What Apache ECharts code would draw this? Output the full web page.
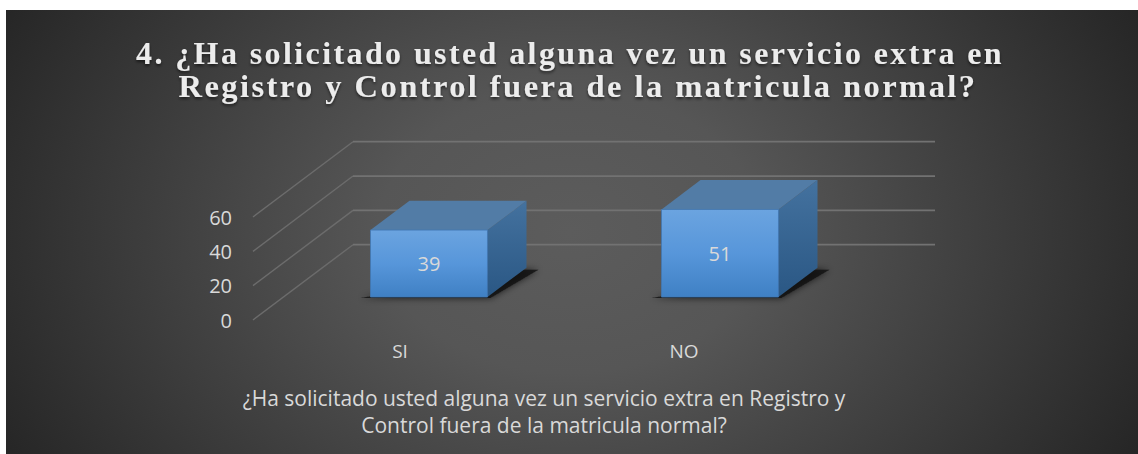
<!DOCTYPE html>
<html>
<head>
<meta charset="utf-8">
<script src="https://cdn.jsdelivr.net/npm/echarts@6/dist/echarts.min.js"></script>
<style>
html,body{margin:0;padding:0;background:#fff;}
#chart{width:1138px;height:454px;}
#chart svg text[style*="Serif"], #chart svg text[font-family*="Serif"]{letter-spacing:2.4px;}
</style>
</head>
<body>
<div id="chart"></div>
<script>
const titleLines = ['4. ¿Ha solicitado usted alguna vez un servicio extra en', 'Registro y Control fuera de la matricula normal?'];
const categories = ['SI', 'NO'];
const values = [39, 51];
const tickValues = [0, 20, 40, 60];
const axisName = '¿Ha solicitado usted alguna vez un servicio extra en Registro y\nControl fuera de la matricula normal?';

const DX = 100, DY = 75.3, D0 = 0.305, D1 = 0.695, BAR = 0.402;
const G = echarts.graphic;
const chart = echarts.init(document.getElementById('chart'), null, {renderer: 'svg', width: 1138, height: 454});

function gridItem(params, api) {
  const p = api.coord([0, api.value(1)]);
  const cs = params.coordSys;
  const x0 = cs.x, y = p[1];
  return {type: 'group', children: [
    {type: 'line', shape: {x1: x0, y1: y, x2: x0 + DX, y2: y - DY},
      style: {stroke: '#6c6c6c', lineWidth: 1.4}},
    {type: 'line', shape: {x1: x0 + DX, y1: y - DY, x2: cs.x + cs.width + DX, y2: y - DY},
      style: {stroke: '#727272', lineWidth: 1.8}}
  ]};
}
function barItem(params, api) {
  const base = api.coord([api.value(0), 0]);
  const top = api.coord([api.value(0), api.value(1)]);
  const band = api.size([1, 0])[0];
  const w = band * BAR;
  const fx = base[0] + DX * D0 - w / 2, fy = base[1] - DY * D0;
  const h = base[1] - top[1];
  const dx = DX * (D1 - D0), dy = DY * (D1 - D0);
  const x1 = fx + w, ty = fy - h;
  return {type: 'group', children: [
    {type: 'polygon', shape: {points: [[fx - 10, fy + 1], [x1 + 3, fy + 1], [x1 + dx + 12, fy - dy + 2], [x1 + dx - 8, fy - dy + 2]]},
      style: {fill: 'rgba(20,20,20,0.8)', shadowBlur: 7, shadowColor: 'rgba(0,0,0,0.85)'}},
    {type: 'polygon', shape: {points: [[x1, ty], [x1 + dx, ty - dy], [x1 + dx, fy - dy], [x1, fy]]},
      style: {fill: new G.LinearGradient(0, 0, 0, 1, [{offset: 0, color: '#44729f'}, {offset: 1, color: '#2a5784'}])}},
    {type: 'polygon', shape: {points: [[fx, ty], [fx + dx, ty - dy], [x1 + dx, ty - dy], [x1, ty]]},
      style: {fill: '#527ca6'}},
    {type: 'rect', shape: {x: fx, y: ty, width: w, height: h},
      style: {fill: new G.LinearGradient(0, 0, 0, 1, [{offset: 0, color: '#6ba4e0'}, {offset: 0.5, color: '#5796da'}, {offset: 1, color: '#3f80c4'}]),
        stroke: 'rgba(65,120,180,0.8)', lineWidth: 1}},
    {type: 'text', style: {text: String(api.value(1)), x: fx + w / 2, y: ty + h / 2, align: 'center', verticalAlign: 'middle',
      fill: '#d9d9d9', fontSize: 20, fontFamily: 'Open Sans'}}
  ]};
}

const titleStyle = {fontFamily: 'Liberation Serif', fontWeight: 'bold', fontSize: 32, lineHeight: 33, color: '#ececec',
  textShadowColor: 'rgba(0,0,0,0.55)', textShadowBlur: 3, textShadowOffsetY: 2};

chart.setOption({
  animation: false,
  backgroundColor: '#ffffff',
  graphic: [
    {type: 'rect', z: -10, shape: {x: 6, y: -184, width: 1132, height: 832},
      style: {fill: new G.RadialGradient(0.498, 0.5, 0.565, [{offset: 0, color: '#5c5c5c'}, {offset: 0.3, color: '#565656'}, {offset: 1, color: '#262626'}])}},
    {type: 'rect', z: -9, shape: {x: 0, y: 0, width: 1138, height: 10}, style: {fill: '#ffffff'}}
  ],
  title: [
    {text: titleLines[0], left: 565, top: 31, textAlign: 'center', textStyle: titleStyle},
    {text: titleLines[1], left: 573, top: 64, textAlign: 'center', textStyle: Object.assign({}, titleStyle, {fontSize: 32.6})}
  ],
  grid: {left: 253, right: 303, top: 217, bottom: 134, containLabel: false},
  xAxis: {type: 'category', data: [{value: categories[0], textStyle: {padding: [0, 0, 0, 3]}}, {value: categories[1], textStyle: {padding: [0, 11, 0, 0]}}],
    axisLine: {show: false}, axisTick: {show: false}, splitLine: {show: false},
    axisLabel: {color: '#d9d9d9', fontSize: 19, fontFamily: 'Open Sans', margin: 21},
    name: axisName, nameLocation: 'middle', nameGap: 64,
    nameTextStyle: {color: '#d9d9d9', fontSize: 21, fontFamily: 'Open Sans', lineHeight: 27}},
  yAxis: {type: 'value', min: 0, max: 60, interval: 20,
    axisLine: {show: false}, axisTick: {show: false}, splitLine: {show: false},
    axisLabel: {color: '#d9d9d9', fontSize: 20, fontFamily: 'Open Sans', margin: 21}},
  series: [
    {type: 'custom', name: 'grid', silent: true, z: 1, renderItem: gridItem, data: tickValues.map(t => [0, t]), encode: {x: 0, y: 1}},
    {type: 'custom', name: 'bars', silent: true, z: 2, renderItem: barItem, data: values.map((v, i) => [i, v]), encode: {x: 0, y: 1}}
  ]
});
</script>
</body>
</html>
